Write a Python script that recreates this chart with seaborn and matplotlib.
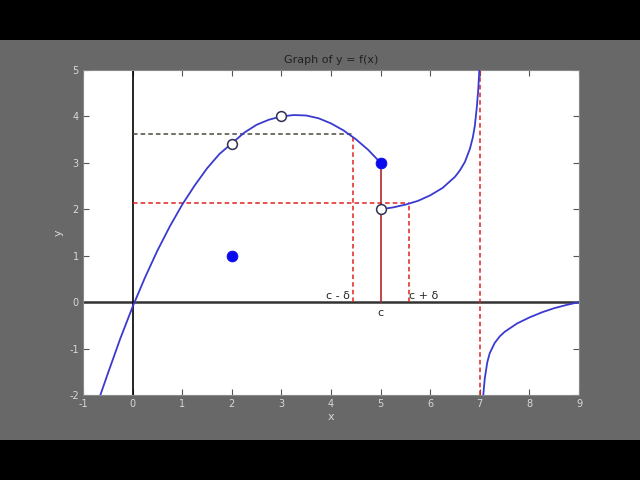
import numpy as np
import pandas as pd
import matplotlib
matplotlib.use("Agg")
import matplotlib.pyplot as plt
import seaborn as sns
from matplotlib.patches import Rectangle

# ---- data ----
seg1_x = [-0.65, -0.5, -0.25, 0.0, 0.25, 0.5, 0.75, 1.0, 1.25, 1.5, 1.75, 2.0, 2.25,
          2.5, 2.75, 3.0, 3.25, 3.5, 3.75, 4.0, 4.25, 4.5, 4.75, 5.0]
seg1_y = [-2.0, -1.54, -0.79, -0.10, 0.53, 1.11, 1.63, 2.10, 2.51, 2.88, 3.19, 3.42, 3.65,
          3.82, 3.93, 4.00, 4.03, 4.02, 3.96, 3.85, 3.70, 3.51, 3.28, 3.00]
seg2_x = [5.0, 5.25, 5.5, 5.75, 6.0, 6.25, 6.5, 6.6, 6.7, 6.8, 6.86, 6.9, 6.94, 6.97, 6.99]
seg2_y = [2.0, 2.04, 2.1, 2.18, 2.3, 2.46, 2.7, 2.84, 3.02, 3.3, 3.55, 3.8, 4.2, 4.6, 5.0]
seg3_x = [7.07, 7.1, 7.15, 7.2, 7.3, 7.4, 7.5, 7.75, 8.0, 8.25, 8.5, 8.75, 9.0]
seg3_y = [-2.0, -1.65, -1.3, -1.1, -0.88, -0.74, -0.64, -0.46, -0.33, -0.22, -0.13, -0.06, 0.0]

open_x = [2, 3, 5]
open_y = [3.4, 4.0, 2.0]
filled_x = [2, 5]
filled_y = [1.0, 3.0]

c_val = 5.0
c_minus = 4.44
c_plus = 5.57
eps_hi = 3.62
eps_lo = 2.13
asym_x = 7.0

x_ticks = [-1, 0, 1, 2, 3, 4, 5, 6, 7, 8, 9]
y_ticks = [-2, -1, 0, 1, 2, 3, 4, 5]

# ---- figure ----
sns.set_theme(style="white")
plt.rcParams['font.family'] = ['DejaVu Sans']

fig = plt.figure(figsize=(6.4, 4.8), dpi=100, facecolor="black")
bg = Rectangle((0, 40/480), 1, 400/480, transform=fig.transFigure,
               facecolor="#686868", edgecolor="none", zorder=-10)
fig.add_artist(bg)
ax = fig.add_axes([83/640, 1-395/480, 496/640, 325/480])
ax.set_zorder(5)
ax.set_facecolor("white")

line_col = "#3a3ad0"
df1 = pd.DataFrame({"x": seg1_x, "y": seg1_y})
df2 = pd.DataFrame({"x": seg2_x, "y": seg2_y})
df3 = pd.DataFrame({"x": seg3_x, "y": seg3_y})

# axes lines
ax.axhline(0, color="#333333", lw=1.8, zorder=1)
ax.axvline(0, color="black", lw=1.2, zorder=1)

# epsilon / delta guides
ax.plot([0, c_minus], [eps_hi, eps_hi], ls=(0, (3, 2)), color="#4a4a40", lw=1.1, zorder=2)
ax.plot([0, c_plus], [eps_lo, eps_lo], ls=(0, (3, 2)), color="#e02020", lw=1.1, zorder=2)
ax.plot([c_minus, c_minus], [0, eps_hi], ls=(0, (3, 2)), color="#e02020", lw=1.1, zorder=2)
ax.plot([c_plus, c_plus], [0, eps_lo], ls=(0, (3, 2)), color="#e02020", lw=1.1, zorder=2)
ax.plot([c_val, c_val], [0, filled_y[1]], color="#b02a2a", lw=1.2, zorder=2)
ax.plot([asym_x, asym_x], [-2, 5], ls=(0, (3, 2)), color="#e02020", lw=1.1, zorder=2)

for d in (df1, df2, df3):
    sns.lineplot(data=d, x="x", y="y", ax=ax, sort=False, estimator=None,
                 color=line_col, lw=1.3, zorder=3)

sns.scatterplot(x=filled_x, y=filled_y, ax=ax, color="#0a0aee", s=60,
                edgecolor="#0a0aee", zorder=4)
sns.scatterplot(x=open_x, y=open_y, ax=ax, color="white", s=50,
                edgecolor="#303050", linewidth=1.1, zorder=4)

ax.text(c_minus - 0.05, 0.03, "c - δ", ha="right", va="bottom", fontsize=8, color="#222222")
ax.text(c_plus + 0.0, 0.03, "c + δ", ha="left", va="bottom", fontsize=8, color="#222222")
ax.text(c_val, -0.12, "c", ha="center", va="top", fontsize=8, color="#222222")

ax.set_xlim(-1, 9)
ax.set_ylim(-2, 5)
ax.set_xticks(x_ticks)
ax.set_yticks(y_ticks)
ax.set_xticklabels([str(t) for t in x_ticks])
ax.set_yticklabels([str(t) for t in y_ticks])
ax.tick_params(direction="in", length=4, width=0.8, colors="#555555",
               labelcolor="#d8d8d8", labelsize=7, top=True, right=True,
               bottom=True, left=True, pad=3)
for s in ax.spines.values():
    s.set_color("#888888")
    s.set_linewidth(0.8)

ax.set_xlabel("x", color="#d8d8d8", fontsize=8, labelpad=2)
ax.set_ylabel("y", color="#d8d8d8", fontsize=8, labelpad=4)
ax.set_title("Graph of y = f(x)", fontsize=8, color="#202020", pad=5)

fig.savefig("out.png", dpi=100, facecolor=fig.get_facecolor())
